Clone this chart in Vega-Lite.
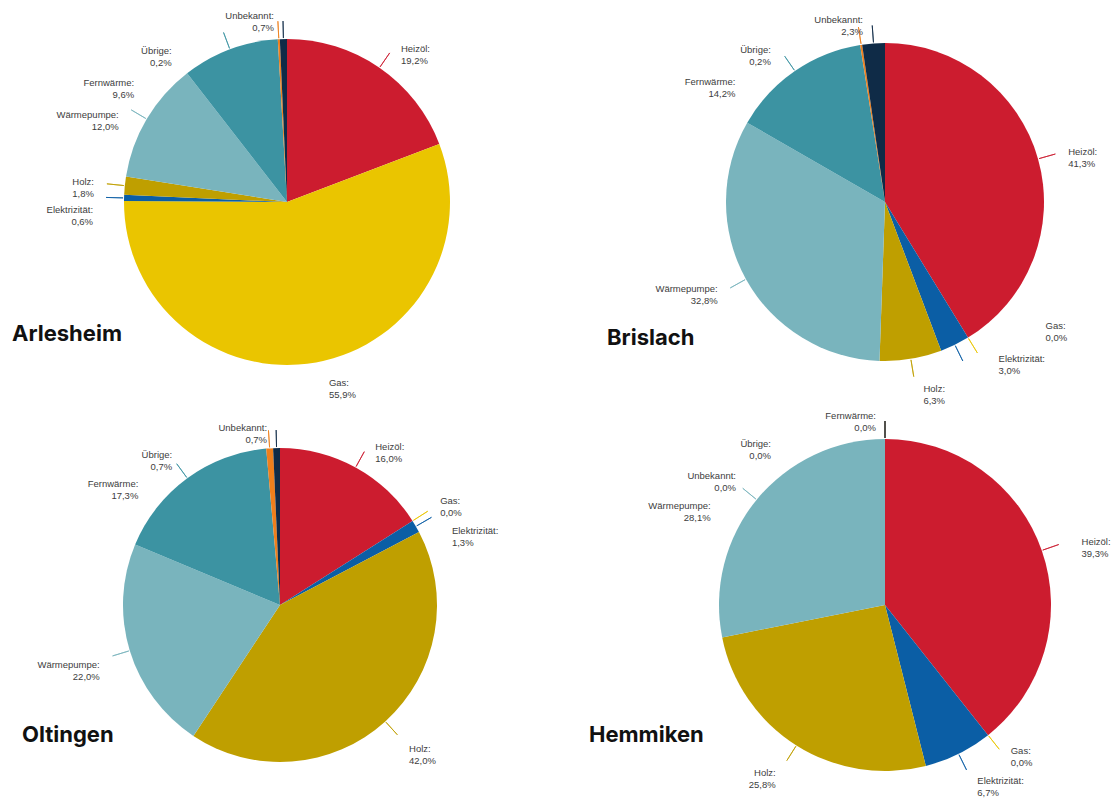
{
  "$schema": "https://vega.github.io/schema/vega-lite/v6.json",
  "padding": 0,
  "background": "#ffffff",
  "config": {
    "view": {"stroke": null},
    "font": "Liberation Sans",
    "title": {"font": "Inter", "fontSize": 22, "fontWeight": 700, "color": "#111111"}
  },
  "datasets": {
    "heizung": [
      {"ort": "Arlesheim", "nr": 1, "typ": "Heizöl", "anteil": 19.2},
      {"ort": "Arlesheim", "nr": 2, "typ": "Gas", "anteil": 55.9},
      {"ort": "Arlesheim", "nr": 3, "typ": "Elektrizität", "anteil": 0.6},
      {"ort": "Arlesheim", "nr": 4, "typ": "Holz", "anteil": 1.8},
      {"ort": "Arlesheim", "nr": 5, "typ": "Wärmepumpe", "anteil": 12.0},
      {"ort": "Arlesheim", "nr": 6, "typ": "Fernwärme", "anteil": 9.6},
      {"ort": "Arlesheim", "nr": 7, "typ": "Übrige", "anteil": 0.2},
      {"ort": "Arlesheim", "nr": 8, "typ": "Unbekannt", "anteil": 0.7},
      {"ort": "Brislach", "nr": 1, "typ": "Heizöl", "anteil": 41.3},
      {"ort": "Brislach", "nr": 2, "typ": "Gas", "anteil": 0.0},
      {"ort": "Brislach", "nr": 3, "typ": "Elektrizität", "anteil": 3.0},
      {"ort": "Brislach", "nr": 4, "typ": "Holz", "anteil": 6.3},
      {"ort": "Brislach", "nr": 5, "typ": "Wärmepumpe", "anteil": 32.8},
      {"ort": "Brislach", "nr": 6, "typ": "Fernwärme", "anteil": 14.2},
      {"ort": "Brislach", "nr": 7, "typ": "Übrige", "anteil": 0.2},
      {"ort": "Brislach", "nr": 8, "typ": "Unbekannt", "anteil": 2.3},
      {"ort": "Oltingen", "nr": 1, "typ": "Heizöl", "anteil": 16.0},
      {"ort": "Oltingen", "nr": 2, "typ": "Gas", "anteil": 0.0},
      {"ort": "Oltingen", "nr": 3, "typ": "Elektrizität", "anteil": 1.3},
      {"ort": "Oltingen", "nr": 4, "typ": "Holz", "anteil": 42.0},
      {"ort": "Oltingen", "nr": 5, "typ": "Wärmepumpe", "anteil": 22.0},
      {"ort": "Oltingen", "nr": 6, "typ": "Fernwärme", "anteil": 17.3},
      {"ort": "Oltingen", "nr": 7, "typ": "Übrige", "anteil": 0.7},
      {"ort": "Oltingen", "nr": 8, "typ": "Unbekannt", "anteil": 0.7},
      {"ort": "Hemmiken", "nr": 1, "typ": "Heizöl", "anteil": 39.3},
      {"ort": "Hemmiken", "nr": 2, "typ": "Gas", "anteil": 0.0},
      {"ort": "Hemmiken", "nr": 3, "typ": "Elektrizität", "anteil": 6.7},
      {"ort": "Hemmiken", "nr": 4, "typ": "Holz", "anteil": 25.8},
      {"ort": "Hemmiken", "nr": 5, "typ": "Wärmepumpe", "anteil": 28.1},
      {"ort": "Hemmiken", "nr": 6, "typ": "Fernwärme", "anteil": 0.0},
      {"ort": "Hemmiken", "nr": 7, "typ": "Übrige", "anteil": 0.0},
      {"ort": "Hemmiken", "nr": 8, "typ": "Unbekannt", "anteil": 0.0}
    ]
  },
  "data": {"name": "heizung"},
  "columns": 2,
  "spacing": {"row": 7, "column": 79},
  "bounds": "flush",
  "resolve": {"scale": {"theta": "independent"}},
  "concat": [
    {
      "width": 574,
      "height": 404,
      "title": {"text": "Arlesheim", "orient": "bottom", "anchor": "start", "frame": "group", "offset": -63, "dx": 12, "baseline": "alphabetic"},
      "transform": [{"filter": "datum.ort === 'Arlesheim'"}],
      "encoding": {
        "theta": {"field": "anteil", "type": "quantitative", "stack": true},
        "order": {"field": "nr", "type": "quantitative"},
        "detail": {"field": "typ", "type": "nominal"},
        "color": {"field": "typ", "type": "nominal", "legend": null,
          "scale": {"domain": ["Heizöl", "Gas", "Elektrizität", "Holz", "Wärmepumpe", "Fernwärme", "Übrige", "Unbekannt"],
                    "range": ["#CC1C2F", "#EAC500", "#0B5EA5", "#BF9F00", "#79B4BD", "#3C93A2", "#EE7F1C", "#0F2B47"]}}
      },
      "layer": [
        {"mark": {"type": "arc", "outerRadius": 163}},
        {"mark": {"type": "arc", "filled": false, "padAngle": 3, "innerRadius": 164, "outerRadius": 181, "strokeWidth": 1},
         "encoding": {"strokeOpacity": {"condition": {"test": "datum.anteil > 50", "value": 0}, "value": 0.8}}},
        {"mark": {"type": "text", "radius": 185, "fontSize": 9.5, "lineHeight": 12, "baseline": "middle",
                  "text": {"expr": "[datum.typ + ':', replace(format(datum.anteil, '.1f'), '.', ',') + '%']"},
                  "align": {"expr": "datum.anteil_start + datum.anteil_end > 100 ? 'right' : 'left'"},
                  "dx": {"expr": "(datum.anteil_start + datum.anteil_end > 100 ? -9 : 9) + (datum.typ === 'Fernwärme' ? -79 : datum.typ === 'Übrige' ? -97 : 0)"},
                  "dy": {"expr": "-1 + (datum.typ === 'Elektrizität' ? 14 : datum.typ === 'Wärmepumpe' ? 8 : datum.typ === 'Fernwärme' ? 55 : datum.typ === 'Übrige' ? 35 : 0)"}},
         "encoding": {"color": {"value": "#3d3d3d"}}}
      ]
    },
    {
      "width": 464,
      "height": 404,
      "title": {"text": "Brislach", "orient": "bottom", "anchor": "start", "frame": "group", "offset": -60, "dx": -46, "baseline": "alphabetic"},
      "transform": [{"filter": "datum.ort === 'Brislach'"}],
      "encoding": {
        "theta": {"field": "anteil", "type": "quantitative", "stack": true},
        "order": {"field": "nr", "type": "quantitative"},
        "detail": {"field": "typ", "type": "nominal"},
        "color": {"field": "typ", "type": "nominal", "legend": null,
          "scale": {"domain": ["Heizöl", "Gas", "Elektrizität", "Holz", "Wärmepumpe", "Fernwärme", "Übrige", "Unbekannt"],
                    "range": ["#CC1C2F", "#EAC500", "#0B5EA5", "#BF9F00", "#79B4BD", "#3C93A2", "#EE7F1C", "#0F2B47"]}}
      },
      "layer": [
        {"mark": {"type": "arc", "outerRadius": 159}},
        {"mark": {"type": "arc", "filled": false, "padAngle": 3, "innerRadius": 160, "outerRadius": 177, "strokeWidth": 1},
         "encoding": {"strokeOpacity": {"condition": {"test": "datum.anteil > 50", "value": 0}, "value": 0.8}}},
        {"mark": {"type": "text", "radius": 181, "fontSize": 9.5, "lineHeight": 12, "baseline": "middle",
                  "text": {"expr": "[datum.typ + ':', replace(format(datum.anteil, '.1f'), '.', ',') + '%']"},
                  "align": {"expr": "datum.anteil_start + datum.anteil_end > 100 ? 'right' : 'left'"},
                  "dx": {"expr": "(datum.anteil_start + datum.anteil_end > 100 ? -9 : 9) + (datum.typ === 'Gas' ? 57 : datum.typ === 'Elektrizität' ? 25 : datum.typ === 'Fernwärme' ? -38 : datum.typ === 'Übrige' ? -78 : 0)"},
                  "dy": {"expr": "-1 + (datum.typ === 'Gas' ? -29 : datum.typ === 'Elektrizität' ? -5 : datum.typ === 'Holz' ? 9 : datum.typ === 'Fernwärme' ? 30 : datum.typ === 'Übrige' ? 28 : 0)"}},
         "encoding": {"color": {"value": "#3d3d3d"}}}
      ]
    },
    {
      "width": 560,
      "height": 388,
      "title": {"text": "Oltingen", "orient": "bottom", "anchor": "start", "frame": "group", "offset": -57, "dx": 22, "baseline": "alphabetic"},
      "transform": [{"filter": "datum.ort === 'Oltingen'"}],
      "encoding": {
        "theta": {"field": "anteil", "type": "quantitative", "stack": true},
        "order": {"field": "nr", "type": "quantitative"},
        "detail": {"field": "typ", "type": "nominal"},
        "color": {"field": "typ", "type": "nominal", "legend": null,
          "scale": {"domain": ["Heizöl", "Gas", "Elektrizität", "Holz", "Wärmepumpe", "Fernwärme", "Übrige", "Unbekannt"],
                    "range": ["#CC1C2F", "#EAC500", "#0B5EA5", "#BF9F00", "#79B4BD", "#3C93A2", "#EE7F1C", "#0F2B47"]}}
      },
      "layer": [
        {"mark": {"type": "arc", "outerRadius": 157}},
        {"mark": {"type": "arc", "filled": false, "padAngle": 3, "innerRadius": 158, "outerRadius": 175, "strokeWidth": 1},
         "encoding": {"strokeOpacity": {"condition": {"test": "datum.anteil > 50", "value": 0}, "value": 0.8}}},
        {"mark": {"type": "text", "radius": 179, "fontSize": 9.5, "lineHeight": 12, "baseline": "middle",
                  "text": {"expr": "[datum.typ + ':', replace(format(datum.anteil, '.1f'), '.', ',') + '%']"},
                  "align": {"expr": "datum.anteil_start + datum.anteil_end > 100 ? 'right' : 'left'"},
                  "dx": {"expr": "(datum.anteil_start + datum.anteil_end > 100 ? -9 : 9) + (datum.typ === 'Elektrizität' ? 8 : datum.typ === 'Fernwärme' ? -27 : datum.typ === 'Übrige' ? -87 : 0)"},
                  "dy": {"expr": "-1 + (datum.typ === 'Gas' ? -7 : datum.typ === 'Elektrizität' ? 17 : datum.typ === 'Holz' ? 12 : datum.typ === 'Wärmepumpe' ? 9 : datum.typ === 'Fernwärme' ? 24 : datum.typ === 'Übrige' ? 30 : datum.typ === 'Unbekannt' ? 3 : 0)"}},
         "encoding": {"color": {"value": "#3d3d3d"}}}
      ]
    },
    {
      "width": 464,
      "height": 388,
      "title": {"text": "Hemmiken", "orient": "bottom", "anchor": "start", "frame": "group", "offset": -57, "dx": -64, "baseline": "alphabetic"},
      "transform": [{"filter": "datum.ort === 'Hemmiken'"}],
      "encoding": {
        "theta": {"field": "anteil", "type": "quantitative", "stack": true},
        "order": {"field": "nr", "type": "quantitative"},
        "detail": {"field": "typ", "type": "nominal"},
        "color": {"field": "typ", "type": "nominal", "legend": null,
          "scale": {"domain": ["Heizöl", "Gas", "Elektrizität", "Holz", "Wärmepumpe", "Fernwärme", "Übrige", "Unbekannt"],
                    "range": ["#CC1C2F", "#EAC500", "#0B5EA5", "#BF9F00", "#79B4BD", "#3C93A2", "#EE7F1C", "#0F2B47"]}}
      },
      "layer": [
        {"mark": {"type": "arc", "outerRadius": 166}},
        {"mark": {"type": "arc", "filled": false, "padAngle": 3, "innerRadius": 167, "outerRadius": 184, "strokeWidth": 1},
         "encoding": {"strokeOpacity": {"condition": {"test": "datum.anteil > 50", "value": 0}, "value": 0.8}}},
        {"mark": {"type": "text", "radius": 188, "fontSize": 9.5, "lineHeight": 12, "baseline": "middle",
                  "text": {"expr": "[datum.typ + ':', replace(format(datum.anteil, '.1f'), '.', ',') + '%']"},
                  "align": {"expr": "datum.anteil_start + datum.anteil_end > 100 ? 'right' : 'left'"},
                  "dx": {"expr": "(datum.anteil_start + datum.anteil_end > 100 ? -9 : 9) + (datum.typ === 'Heizöl' ? 10 : datum.typ === 'Wärmepumpe' ? -20 : datum.typ === 'Übrige' ? -105 : datum.typ === 'Unbekannt' ? -140 : 0)"},
                  "dy": {"expr": "-1 + (datum.typ === 'Elektrizität' ? 8 : datum.typ === 'Holz' ? 10 : datum.typ === 'Wärmepumpe' ? 21 : datum.typ === 'Übrige' ? 28 : datum.typ === 'Unbekannt' ? 60 : 0)"}},
         "encoding": {"color": {"value": "#3d3d3d"}}}
      ]
    }
  ]
}
